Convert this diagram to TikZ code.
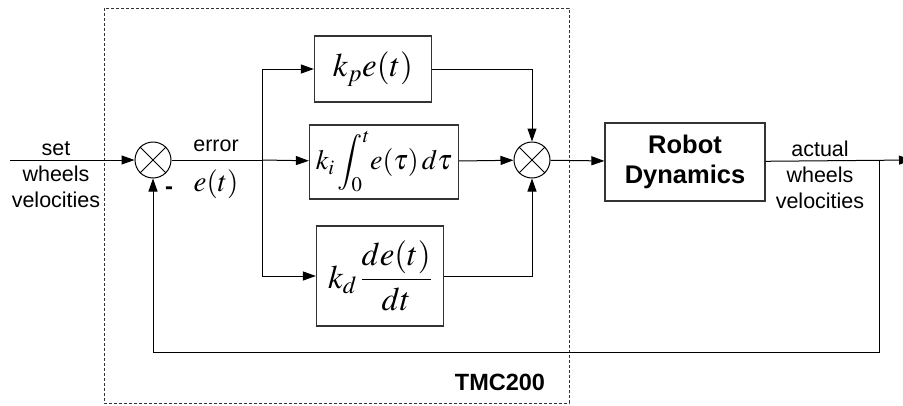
\documentclass[tikz,border=0pt]{standalone}
\usepackage{mathptmx}
\usepackage[no-math]{fontspec}
\setmainfont{Liberation Sans}
\usetikzlibrary{arrows.meta}
\begin{document}
\begin{tikzpicture}[x=1pt,y=-1pt,
  line width=1pt,
  arr/.style={-{Triangle[length=13pt,width=9pt]}},
  blk/.style={draw=black!80,line width=1.2pt,inner sep=0pt},
  sumnode/.style={circle,draw,minimum size=36pt,inner sep=0pt},
  lbl/.style={align=center,font=\fontsize{21.5}{26}\selectfont},
  mth/.style={font=\fontsize{33}{38}\selectfont}]
\useasboundingbox (0,0) rectangle (903,405);
% dashed controller box
\draw[dashed,line width=0.7pt,dash pattern=on 3pt off 2pt,black!80] (104,8) rectangle (569,403);
\node[font=\fontsize{23.5}{26}\selectfont\bfseries] (tmc) at (500,382) {TMC200};
% nodes
\node[sumnode] (s1) at (153,160) {};
\draw[line width=0.8pt] (s1.north west) -- (s1.south east) (s1.north east) -- (s1.south west);
\node[sumnode] (s2) at (532,160) {};
\draw[line width=0.8pt] (s2.north west) -- (s2.south east) (s2.north east) -- (s2.south west);
\node[blk,minimum width=117pt,minimum height=66pt,mth] (kp) at (373,69) {$k_p e(t)$};
\node[blk,minimum width=149pt,minimum height=74pt,font=\fontsize{28}{32}\selectfont] (ki) at (384,162) {$k_i\displaystyle\int_0^t\! e(\tau)\,d\tau$};
\node[blk,minimum width=127pt,minimum height=100pt,mth] (kd) at (380,276) {$k_d\,\displaystyle\frac{de(t)}{dt}$};
\node[blk,minimum width=160pt,minimum height=78pt,align=center,font=\fontsize{25.5}{30}\selectfont\bfseries] (rd) at (685,162) {Robot\\Dynamics};
% labels
\node[lbl] (setl) at (56,175) {set\\wheels\\velocities};
\node[lbl] (errl) at (216,146) {error};
\node[font=\fontsize{29}{32}\selectfont] (etl) at (216,184) {$e(t)$};
\node[lbl] (actl) at (820,175) {actual\\wheels\\velocities};
\node[font=\fontsize{24}{24}\selectfont\bfseries] (minus) at (169,191) {-};
% coordinates
\coordinate (in) at (10,160);
\coordinate (br) at (262,160);
\coordinate (fb) at (879,160);
\coordinate (fbc) at (879,352);
\coordinate (out) at (912,160);
% connectors
\draw[arr] (in) -- (s1);
\draw (s1) -- (br);
\draw[arr] (br) -- (ki);
\draw[arr] (br) |- (kp);
\draw[arr] (br) |- (kd);
\draw[arr] (kp) -| (s2);
\draw[arr] (ki) -- (s2);
\draw[arr] (kd) -| (s2);
\draw[arr] (s2) -- (rd);
\draw[arr] (rd) -- (out);
\draw[arr] (fb) -- (fbc) -| (s1);
\end{tikzpicture}
\end{document}
